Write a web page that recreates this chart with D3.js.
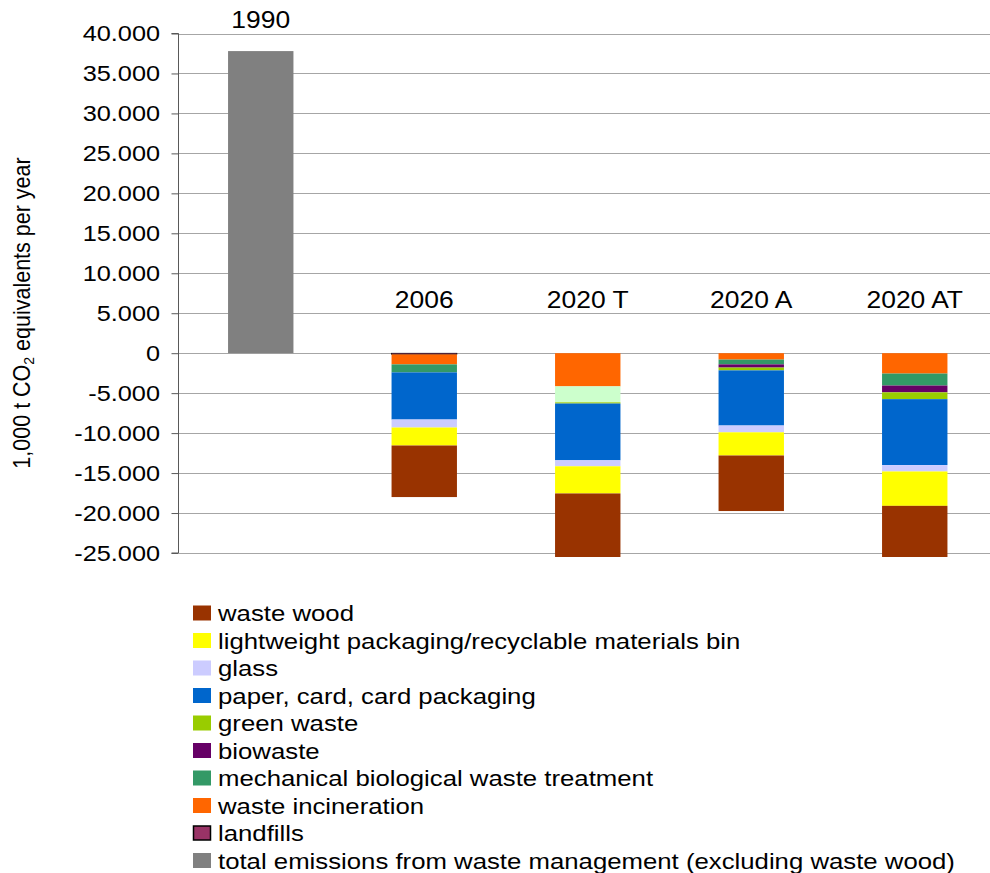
<!DOCTYPE html>
<html>
<head>
<meta charset="utf-8">
<script src="https://cdn.jsdelivr.net/npm/d3@7"></script>
<style>
  html, body { margin: 0; padding: 0; background: #fff; }
  svg { display: block; font-family: "Liberation Sans", Arial, sans-serif; }
</style>
</head>
<body>
<svg id="chart" width="990" height="873"></svg>
<script>
// Scenarios on the x axis
const categories = ["1990", "2006", "2020 T", "2020 A", "2020 AT"];

// Series, in stacking order from zero downwards (1,000 t CO2 equivalents per year)
const seriesNames = [
  "landfills",
  "waste incineration",
  "mechanical biological waste treatment",
  "biowaste",
  "green waste",
  "paper, card, card packaging",
  "glass",
  "lightweight packaging/recyclable materials bin",
  "waste wood"
];
const landfills      = [0, -150,     0,    0,     0];
const incineration   = [0, -1250, -4150, -800, -2550];
const mbt            = [0, -1000, -2000, -600, -1500];
const biowaste       = [0,     0,     0, -400,  -850];
const greenWaste     = [0,     0,  -150, -350,  -850];
const paper          = [0, -5900, -7100, -6900, -8250];
const glass          = [0, -1000,  -750, -850,  -800];
const lightweight    = [0, -2250, -3400, -2900, -4300];
const wasteWood      = [0, -6450, -7950, -6950, -6400];

// Total emissions from waste management (excluding waste wood)
const totalEmissions = [37800, 0, 0, 0, 0];

const yTicks = [40000, 35000, 30000, 25000, 20000, 15000, 10000, 5000, 0,
                -5000, -10000, -15000, -20000, -25000];

const legendNames = [
  "waste wood",
  "lightweight packaging/recyclable materials bin",
  "glass",
  "paper, card, card packaging",
  "green waste",
  "biowaste",
  "mechanical biological waste treatment",
  "waste incineration",
  "landfills",
  "total emissions from waste management (excluding waste wood)"
];

const colors = {
  "waste wood": "#993300",
  "lightweight packaging/recyclable materials bin": "#FFFF00",
  "glass": "#CCCCFF",
  "paper, card, card packaging": "#0066CC",
  "green waste": "#99CC00",
  "biowaste": "#660066",
  "mechanical biological waste treatment": "#339966",
  "waste incineration": "#FF6600",
  "landfills": "#993366",
  "total emissions from waste management (excluding waste wood)": "#808080"
};
// one segment drawn in a lighter shade
const segmentColorOverride = { "2020 T|mechanical biological waste treatment": "#CCFFCC" };

const seriesValues = [landfills, incineration, mbt, biowaste, greenWaste,
                      paper, glass, lightweight, wasteWood];

const rows = categories.map((c, i) => {
  const r = { category: c };
  seriesNames.forEach((s, k) => { r[s] = seriesValues[k][i]; });
  return r;
});

const svg = d3.select("#chart");
const W = 990;
const STRETCH = 1.15; // horizontal text stretch

const x = d3.scaleBand().domain(categories).range([179, 996.5])
  .paddingInner(0.6).paddingOuter(0.3);
const y = d3.scaleLinear().domain([-25000, 40000]).range([553, 33.5]);

// gridlines
svg.append("g").selectAll("line").data(yTicks).join("line")
  .attr("x1", 179).attr("x2", W)
  .attr("y1", d => Math.round(y(d)) + 0.5).attr("y2", d => Math.round(y(d)) + 0.5)
  .attr("stroke", "#a6a6a6").attr("stroke-width", 1);

// y axis
const yAxis = d3.axisLeft(y).tickValues(yTicks).tickSize(7).tickFormat(() => "");
const gAxis = svg.append("g").attr("transform", "translate(178.5,0)").call(yAxis);
gAxis.select(".domain").attr("stroke", "#595959").attr("d", `M-7,${y(40000)}H0V${y(-25000)}H-7`);
gAxis.selectAll(".tick line").attr("stroke", "#595959");

const fmt = v => v === 0 ? "0" : d3.format(",")(v).replace(/,/g, ".").replace("−", "-");
svg.append("g").selectAll("text").data(yTicks).join("text")
  .attr("transform", d => `translate(160,${y(d)}) scale(${STRETCH},1)`)
  .attr("text-anchor", "end").attr("dy", "0.36em")
  .attr("font-size", 22).attr("fill", "#000")
  .text(fmt);

// stacked negative contributions
const stack = d3.stack().keys(seriesNames).offset(d3.stackOffsetDiverging);
const stacked = stack(rows);
const gBars = svg.append("g");
stacked.forEach(layer => {
  const name = layer.key;
  gBars.append("g").selectAll("rect").data(layer.filter(d => d[1] - d[0] !== 0)).join("rect")
    .attr("x", d => x(d.data.category))
    .attr("width", x.bandwidth())
    .attr("y", d => y(d[1]))
    .attr("height", d => y(d[0]) - y(d[1]))
    .attr("fill", d => segmentColorOverride[d.data.category + "|" + name] || colors[name])
    .attr("stroke", name === "landfills" ? "#000" : "none")
    .attr("stroke-width", name === "landfills" ? 0.6 : 0);
});

// 1990 total
gBars.append("g").selectAll("rect").data(categories.map((c, i) => ({ c, v: totalEmissions[i] })).filter(d => d.v > 0))
  .join("rect")
  .attr("x", d => x(d.c)).attr("width", x.bandwidth())
  .attr("y", d => y(d.v)).attr("height", d => y(0) - y(d.v))
  .attr("fill", colors["total emissions from waste management (excluding waste wood)"]);

// category labels
const labelValue = c => c === "1990" ? 41700 : 6650;
svg.append("g").selectAll("text").data(categories).join("text")
  .attr("transform", c => `translate(${x(c) + x.bandwidth() / 2},${y(labelValue(c))}) scale(${STRETCH},1)`)
  .attr("text-anchor", "middle").attr("dy", "0.36em")
  .attr("font-size", 23).attr("fill", "#000")
  .text(c => c);

// y axis title
const title = svg.append("text")
  .attr("transform", "translate(30,313) rotate(-90) scale(1,1.1)")
  .attr("text-anchor", "middle").attr("font-size", 21.5).attr("fill", "#000");
title.append("tspan").text("1,000 t CO");
title.append("tspan").attr("font-size", 14).attr("dy", 4).text("2");
title.append("tspan").attr("dy", -4).text(" equivalents per year");

// legend
const leg = svg.append("g");
const rowH = 27.5, legY0 = 613;
legendNames.forEach((n, i) => {
  const cy = legY0 + i * rowH;
  const isLand = n === "landfills";
  leg.append("rect")
    .attr("x", isLand ? 193.5 : 193).attr("y", cy - 7.5 + (isLand ? 0.5 : 0))
    .attr("width", isLand ? 17 : 18).attr("height", isLand ? 14 : 15)
    .attr("fill", colors[n])
    .attr("stroke", isLand ? "#000" : "none").attr("stroke-width", isLand ? 1.5 : 0);
  leg.append("text")
    .attr("transform", `translate(218,${cy}) scale(${STRETCH},1)`)
    .attr("dy", "0.36em").attr("font-size", 22.4).attr("fill", "#000")
    .text(n);
});
</script>
</body>
</html>
